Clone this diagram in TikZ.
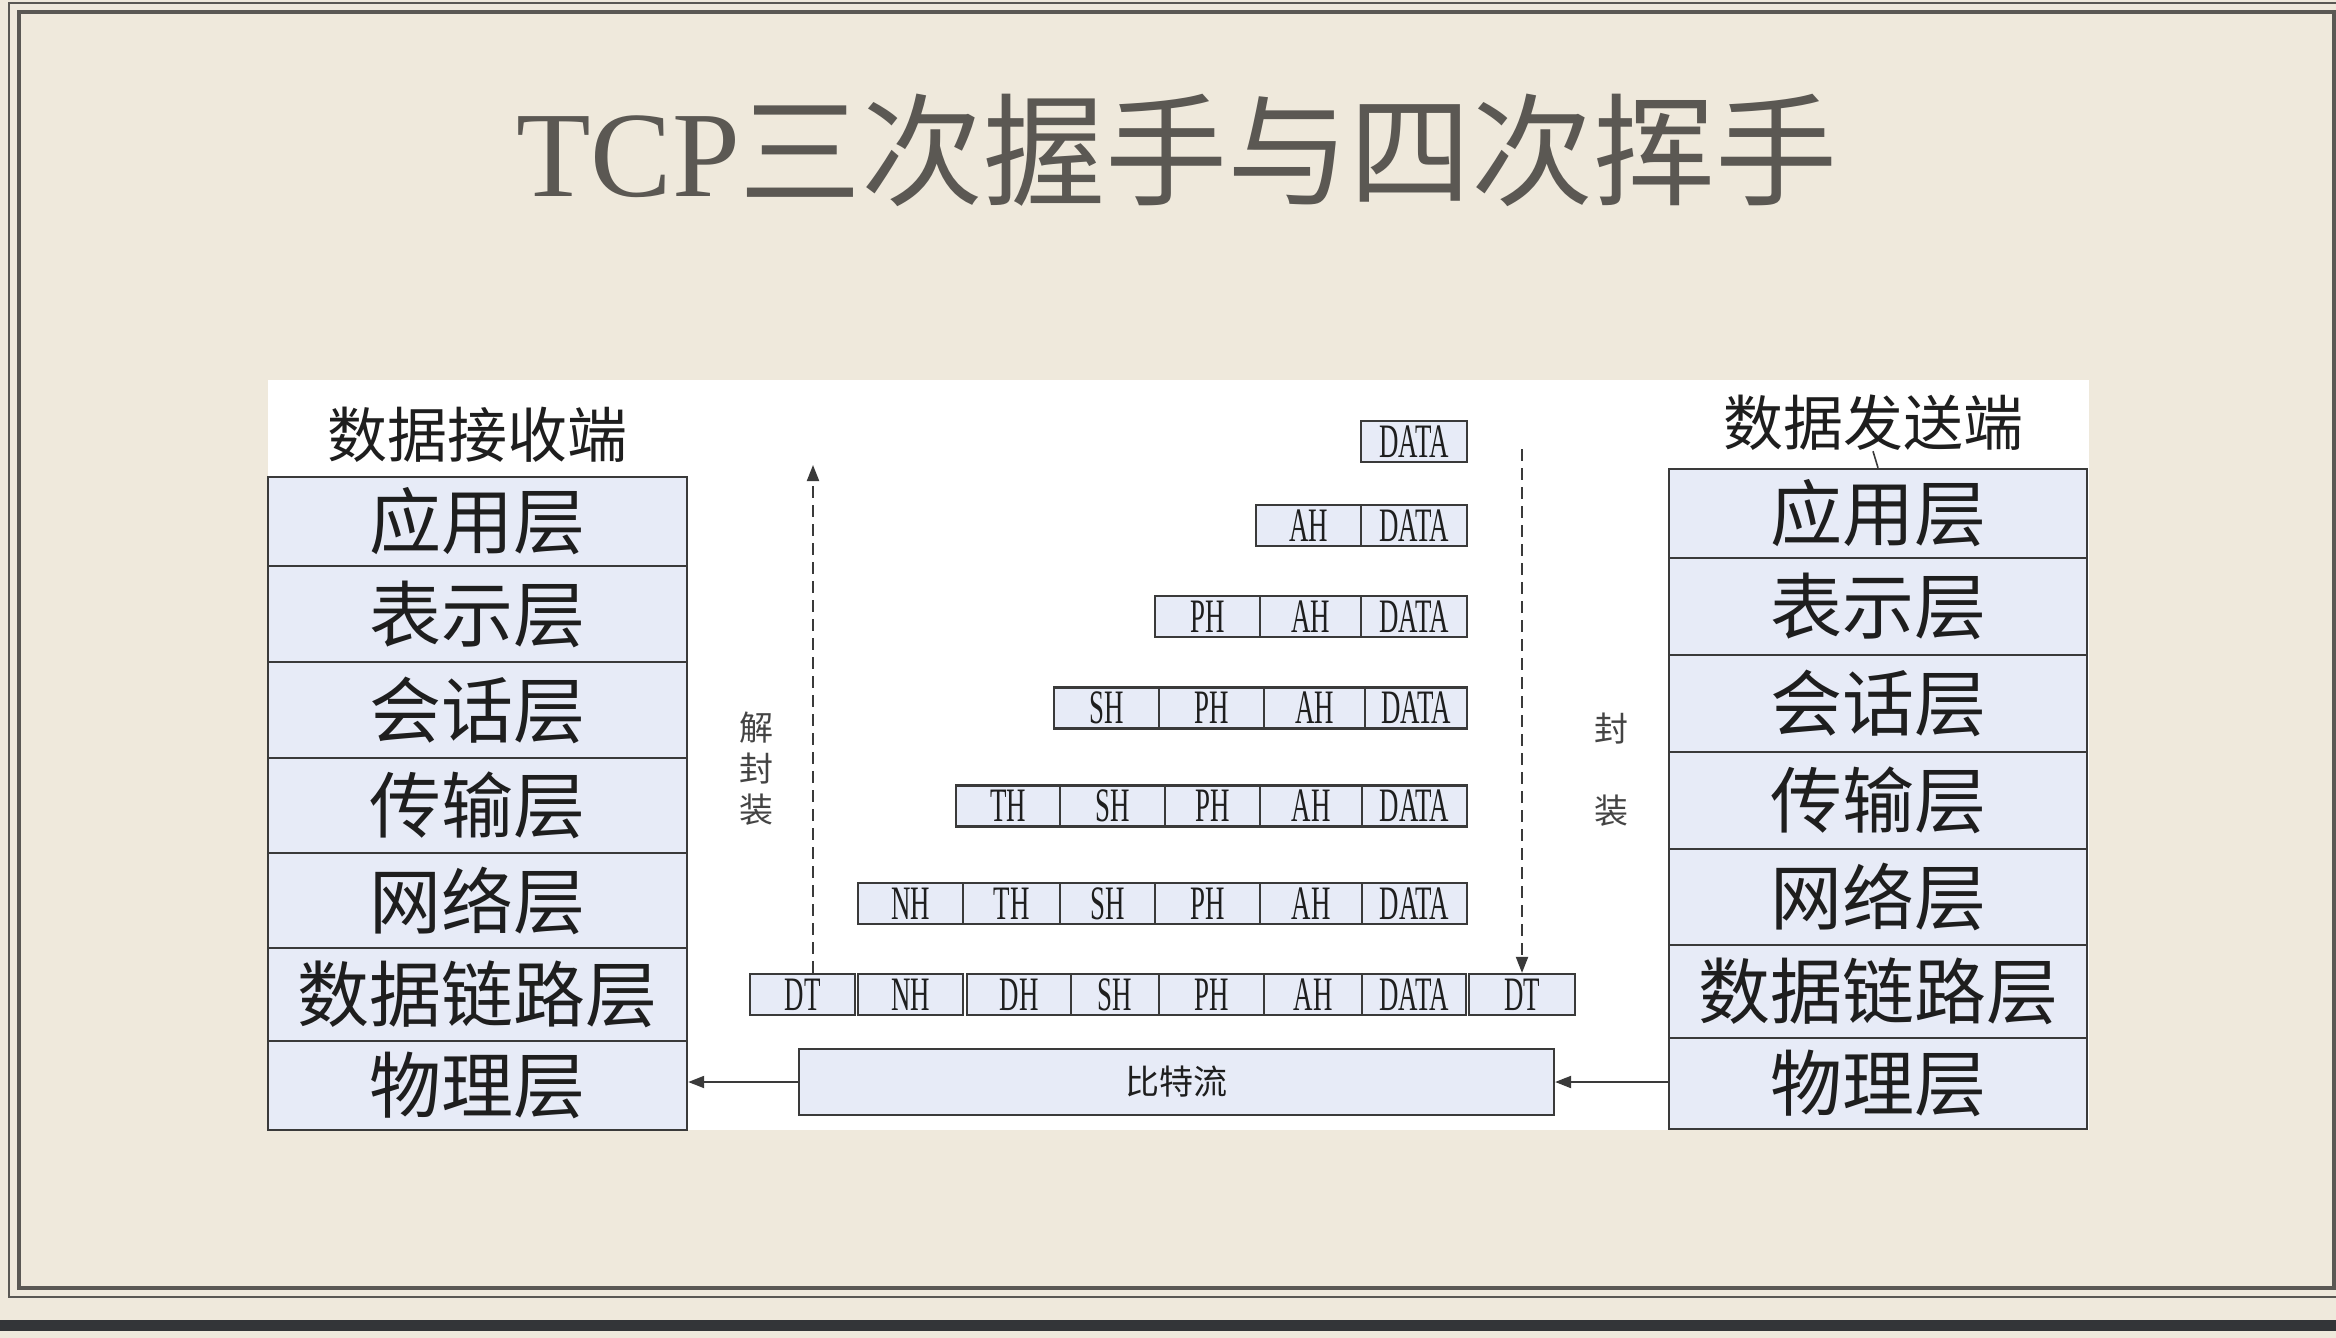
\documentclass[tikz,border=0pt]{standalone}
\usepackage{fontspec}
\usetikzlibrary{arrows.meta}
\newfontfamily\cjk{Noto Sans CJK SC}
\newfontfamily\condfont[FakeStretch=0.56]{Liberation Serif}
\newfontfamily\titlefont{Liberation Serif}
\definecolor{paper}{HTML}{EFE9DC}
\definecolor{framec}{HTML}{5A5854}
\definecolor{bandc}{HTML}{333538}
\definecolor{boxfill}{HTML}{E7EBF7}
\definecolor{edge}{HTML}{3A3A3A}
\definecolor{ink}{HTML}{1E1E1E}
\definecolor{titlec}{HTML}{5B5853}
\definecolor{labc}{HTML}{444444}
\newcommand\layrow[6]{\node[layer, minimum width={(#4-#3)*0.5pt}, minimum height={(#6-#5)*0.5pt}] (#1) at ({(#3+#4)/2},{(#5+#6)/2}) {#2};}
\newcommand\pk[5]{\node[pkt, minimum width={(#4-#3)*0.5pt}] (#1) at ({(#3+#4)/2},#5) {#2};}
\tikzset{
  layer/.style={draw=edge, line width=1.2pt, fill=boxfill, inner sep=0pt, text=ink, font=\cjk\fontsize{36}{36}\selectfont},
  pkt/.style={draw=edge, line width=1.1pt, fill=boxfill, inner sep=0pt, minimum height=20.5pt, text=ink, font=\condfont\fontsize{24}{24}\selectfont},
  endlabel/.style={text=ink, inner sep=0pt, font=\cjk\fontsize{30}{30}\selectfont},
  sidelabel/.style={text=labc, inner sep=0pt, align=center, font=\cjk\fontsize{17}{20.5}\selectfont},
  arr/.style={draw=edge, line width=1pt, -{Triangle[length=8pt,width=6pt]}},
  dasharr/.style={arr, dash pattern=on 6pt off 3.5pt},
  titlestyle/.style={text=titlec, inner sep=0pt, font=\fontsize{61}{61}\selectfont}
}
\begin{document}
\begin{tikzpicture}[x=0.5pt,y=-0.5pt]
\useasboundingbox (0,0) rectangle (2336,1338);
\fill[paper] (0,0) rectangle (2336,1338);
% frame
\draw[framec, line width=1pt] (9,3) rectangle (2346,1297);
\draw[framec, line width=1.6pt] (19,12) rectangle (2334,1288);
\fill[bandc] (0,1320) rectangle (2336,1331);
% title
\node[titlestyle] (ttl) at (1177,150) {{\titlefont TCP}{\cjk 三次握手与四次挥手}};
% white panel
\fill[white] (268,380) rectangle (2089,1130);
% left stack (receiver)
\node[endlabel] (rcv) at (477,435) {数据接收端};
\layrow{lA}{应用层}{268}{687}{477}{566}
\layrow{lB}{表示层}{268}{687}{566}{662}
\layrow{lC}{会话层}{268}{687}{662}{758}
\layrow{lD}{传输层}{268}{687}{758}{853}
\layrow{lE}{网络层}{268}{687}{853}{948}
\layrow{lF}{数据链路层}{268}{687}{948}{1041}
\layrow{lG}{物理层}{268}{687}{1041}{1130}
% right stack (sender)
\node[endlabel] (snd) at (1873,423) {数据发送端};
\layrow{rA}{应用层}{1669}{2087}{469}{558}
\layrow{rB}{表示层}{1669}{2087}{558}{655}
\layrow{rC}{会话层}{1669}{2087}{655}{752}
\layrow{rD}{传输层}{1669}{2087}{752}{849}
\layrow{rE}{网络层}{1669}{2087}{849}{945}
\layrow{rF}{数据链路层}{1669}{2087}{945}{1038}
\layrow{rG}{物理层}{1669}{2087}{1038}{1129}
\draw[edge, line width=0.8pt] (snd.south) -- (rA.north);
% packets
\pk{a1}{DATA}{1361}{1467}{441.5}
\pk{b1}{AH}{1256}{1361}{525.5}
\pk{b2}{DATA}{1361}{1467}{525.5}
\pk{c1}{PH}{1155}{1260}{616.5}
\pk{c2}{AH}{1260}{1361}{616.5}
\pk{c3}{DATA}{1361}{1467}{616.5}
\pk{d1}{SH}{1054}{1159}{708}
\pk{d2}{PH}{1159}{1264}{708}
\pk{d3}{AH}{1264}{1365}{708}
\pk{d4}{DATA}{1365}{1467}{708}
\pk{e1}{TH}{956}{1060}{806}
\pk{e2}{SH}{1060}{1165}{806}
\pk{e3}{PH}{1165}{1260}{806}
\pk{e4}{AH}{1260}{1362}{806}
\pk{e5}{DATA}{1362}{1467}{806}
\pk{f1}{NH}{858}{963}{903.5}
\pk{f2}{TH}{963}{1060}{903.5}
\pk{f3}{SH}{1060}{1155}{903.5}
\pk{f4}{PH}{1155}{1260}{903.5}
\pk{f5}{AH}{1260}{1362}{903.5}
\pk{f6}{DATA}{1362}{1467}{903.5}
\pk{g1}{DT}{750}{855}{994.5}
\pk{g2}{NH}{858}{963}{994.5}
\pk{g3}{DH}{967}{1071}{994.5}
\pk{g4}{SH}{1071}{1159}{994.5}
\pk{g5}{PH}{1159}{1264}{994.5}
\pk{g6}{AH}{1264}{1362}{994.5}
\pk{g7}{DATA}{1362}{1466}{994.5}
\pk{g8}{DT}{1469}{1575}{994.5}
% bit stream
\node[pkt, minimum width=377.5pt, minimum height=33pt, font=\cjk\fontsize{17}{17}\selectfont] (bits) at (1176.5,1082) {比特流};
\draw[arr] (bits.west) -- (bits.west -| lG.east);
\draw[arr] (bits.east -| rG.west) -- (bits.east);
% dashed arrows
\coordinate (upend) at (813,465);
\draw[dasharr] (upend |- g1.north) -- (upend);
\coordinate (downstart) at (1522,449);
\draw[dasharr] (downstart) -- (downstart |- g8.north);
% side labels
\node[sidelabel] (decap) at (756,769) {解\\封\\装};
\node[sidelabel, font=\cjk\fontsize{17}{41}\selectfont] (encap) at (1611,770) {封\\装};
\end{tikzpicture}
\end{document}
